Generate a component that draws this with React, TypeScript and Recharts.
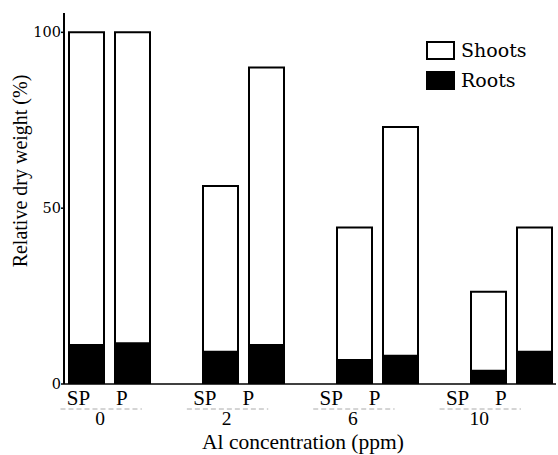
import React from 'react';
import { BarChart, Bar, XAxis, YAxis, Label } from 'recharts';

const categories = ['0', '2', '6', '10'];
const spRoots = [11.1, 9.2, 6.8, 3.8];
const spShoots = [88.9, 47.1, 37.7, 22.4];
const pRoots = [11.6, 11.1, 8.0, 9.2];
const pShoots = [88.4, 78.9, 65.1, 35.3];
const barLabels = ['SP', 'P'];
const yTicks = [0, 50, 100];
const seriesNames = ['Shoots', 'Roots'];

const data = categories.map((c, i) => ({
  conc: c,
  spRoots: spRoots[i],
  spShoots: spShoots[i],
  pRoots: pRoots[i],
  pShoots: pShoots[i],
}));

const DJ = "'DejaVu Serif', serif";
const LS = "'Liberation Serif', serif";
const BAR = 35;
const GAP = 11;
const half = (BAR + GAP) / 2;
const skew = (x: number) => 0.943 * x - 2.6;

const XTick = (props: any) => {
  const { x, y, payload } = props;
  const spX = skew(x - half);
  const pX = skew(x + half);
  return (
    <g>
      <text x={spX} y={y + 21} textAnchor="middle" fontSize={21} style={{ fontFamily: LS }} fill="#000">{barLabels[0]}</text>
      <text x={pX} y={y + 21} textAnchor="middle" fontSize={21} style={{ fontFamily: LS }} fill="#000">{barLabels[1]}</text>
      <line x1={spX - 18} x2={pX + 20} y1={y + 25} y2={y + 25} stroke="#aaa" strokeWidth={1} strokeDasharray="5 3" />
      <text x={skew(x)} y={y + 41} textAnchor="middle" fontSize={19.5} style={{ fontFamily: LS }} fill="#000">{payload.value}</text>
    </g>
  );
};

const LegendBox = () => (
  <div style={{ position: 'absolute', left: 426, top: 41, fontFamily: DJ, fontSize: 19, color: '#000', lineHeight: '19px' }}>
    <div style={{ display: 'flex', alignItems: 'center', height: 18, marginBottom: 12 }}>
      <div style={{ width: 25, height: 15, border: '2px solid #000', background: '#fff', marginRight: 6 }} />
      <span>{seriesNames[0]}</span>
    </div>
    <div style={{ display: 'flex', alignItems: 'center', height: 18 }}>
      <div style={{ width: 29, height: 19, background: '#000', marginRight: 6 }} />
      <span>{seriesNames[1]}</span>
    </div>
  </div>
);

export default function App() {
  return (
    <div style={{ position: 'absolute', left: 0, top: 0, width: 558, height: 455 }}>
      <BarChart
        width={558}
        height={455}
        data={data}
        margin={{ top: 13, right: 2, bottom: 0, left: 0 }}
        barSize={BAR}
        barGap={GAP}
      >
        <XAxis
          dataKey="conc"
          height={71}
          padding={{ left: -22, right: -22 }}
          axisLine={{ stroke: '#000', strokeWidth: 1.5 }}
          tickLine={false}
          tickSize={0}
          tickMargin={0}
          interval={0}
          tick={<XTick />}
        >
          <Label
            content={() => (
              <text x={303} y={449} textAnchor="middle" fontSize={21.5} style={{ fontFamily: LS }} fill="#000">
                Al concentration (ppm)
              </text>
            )}
          />
        </XAxis>
        <YAxis
          width={64}
          domain={[0, 105.5]}
          ticks={yTicks}
          allowDataOverflow
          axisLine={{ stroke: '#000', strokeWidth: 2 }}
          tickLine={{ stroke: '#000', strokeWidth: 1.5 }}
          tickSize={3}
          tickMargin={0}
          tick={{ fontSize: 14.5, fill: '#000', style: { fontFamily: DJ } }}
        >
          <Label
            content={() => (
              <text transform="translate(27,171) rotate(-90)" textAnchor="middle" fontSize={20} style={{ fontFamily: LS }} fill="#000">
                Relative dry weight (%)
              </text>
            )}
          />
        </YAxis>
        <Bar dataKey="spRoots" stackId="sp" fill="#000" stroke="#000" strokeWidth={2} isAnimationActive={false} />
        <Bar dataKey="spShoots" stackId="sp" fill="#fff" stroke="#000" strokeWidth={2} isAnimationActive={false} />
        <Bar dataKey="pRoots" stackId="p" fill="#000" stroke="#000" strokeWidth={2} isAnimationActive={false} />
        <Bar dataKey="pShoots" stackId="p" fill="#fff" stroke="#000" strokeWidth={2} isAnimationActive={false} />
      </BarChart>
      <LegendBox />
    </div>
  );
}
